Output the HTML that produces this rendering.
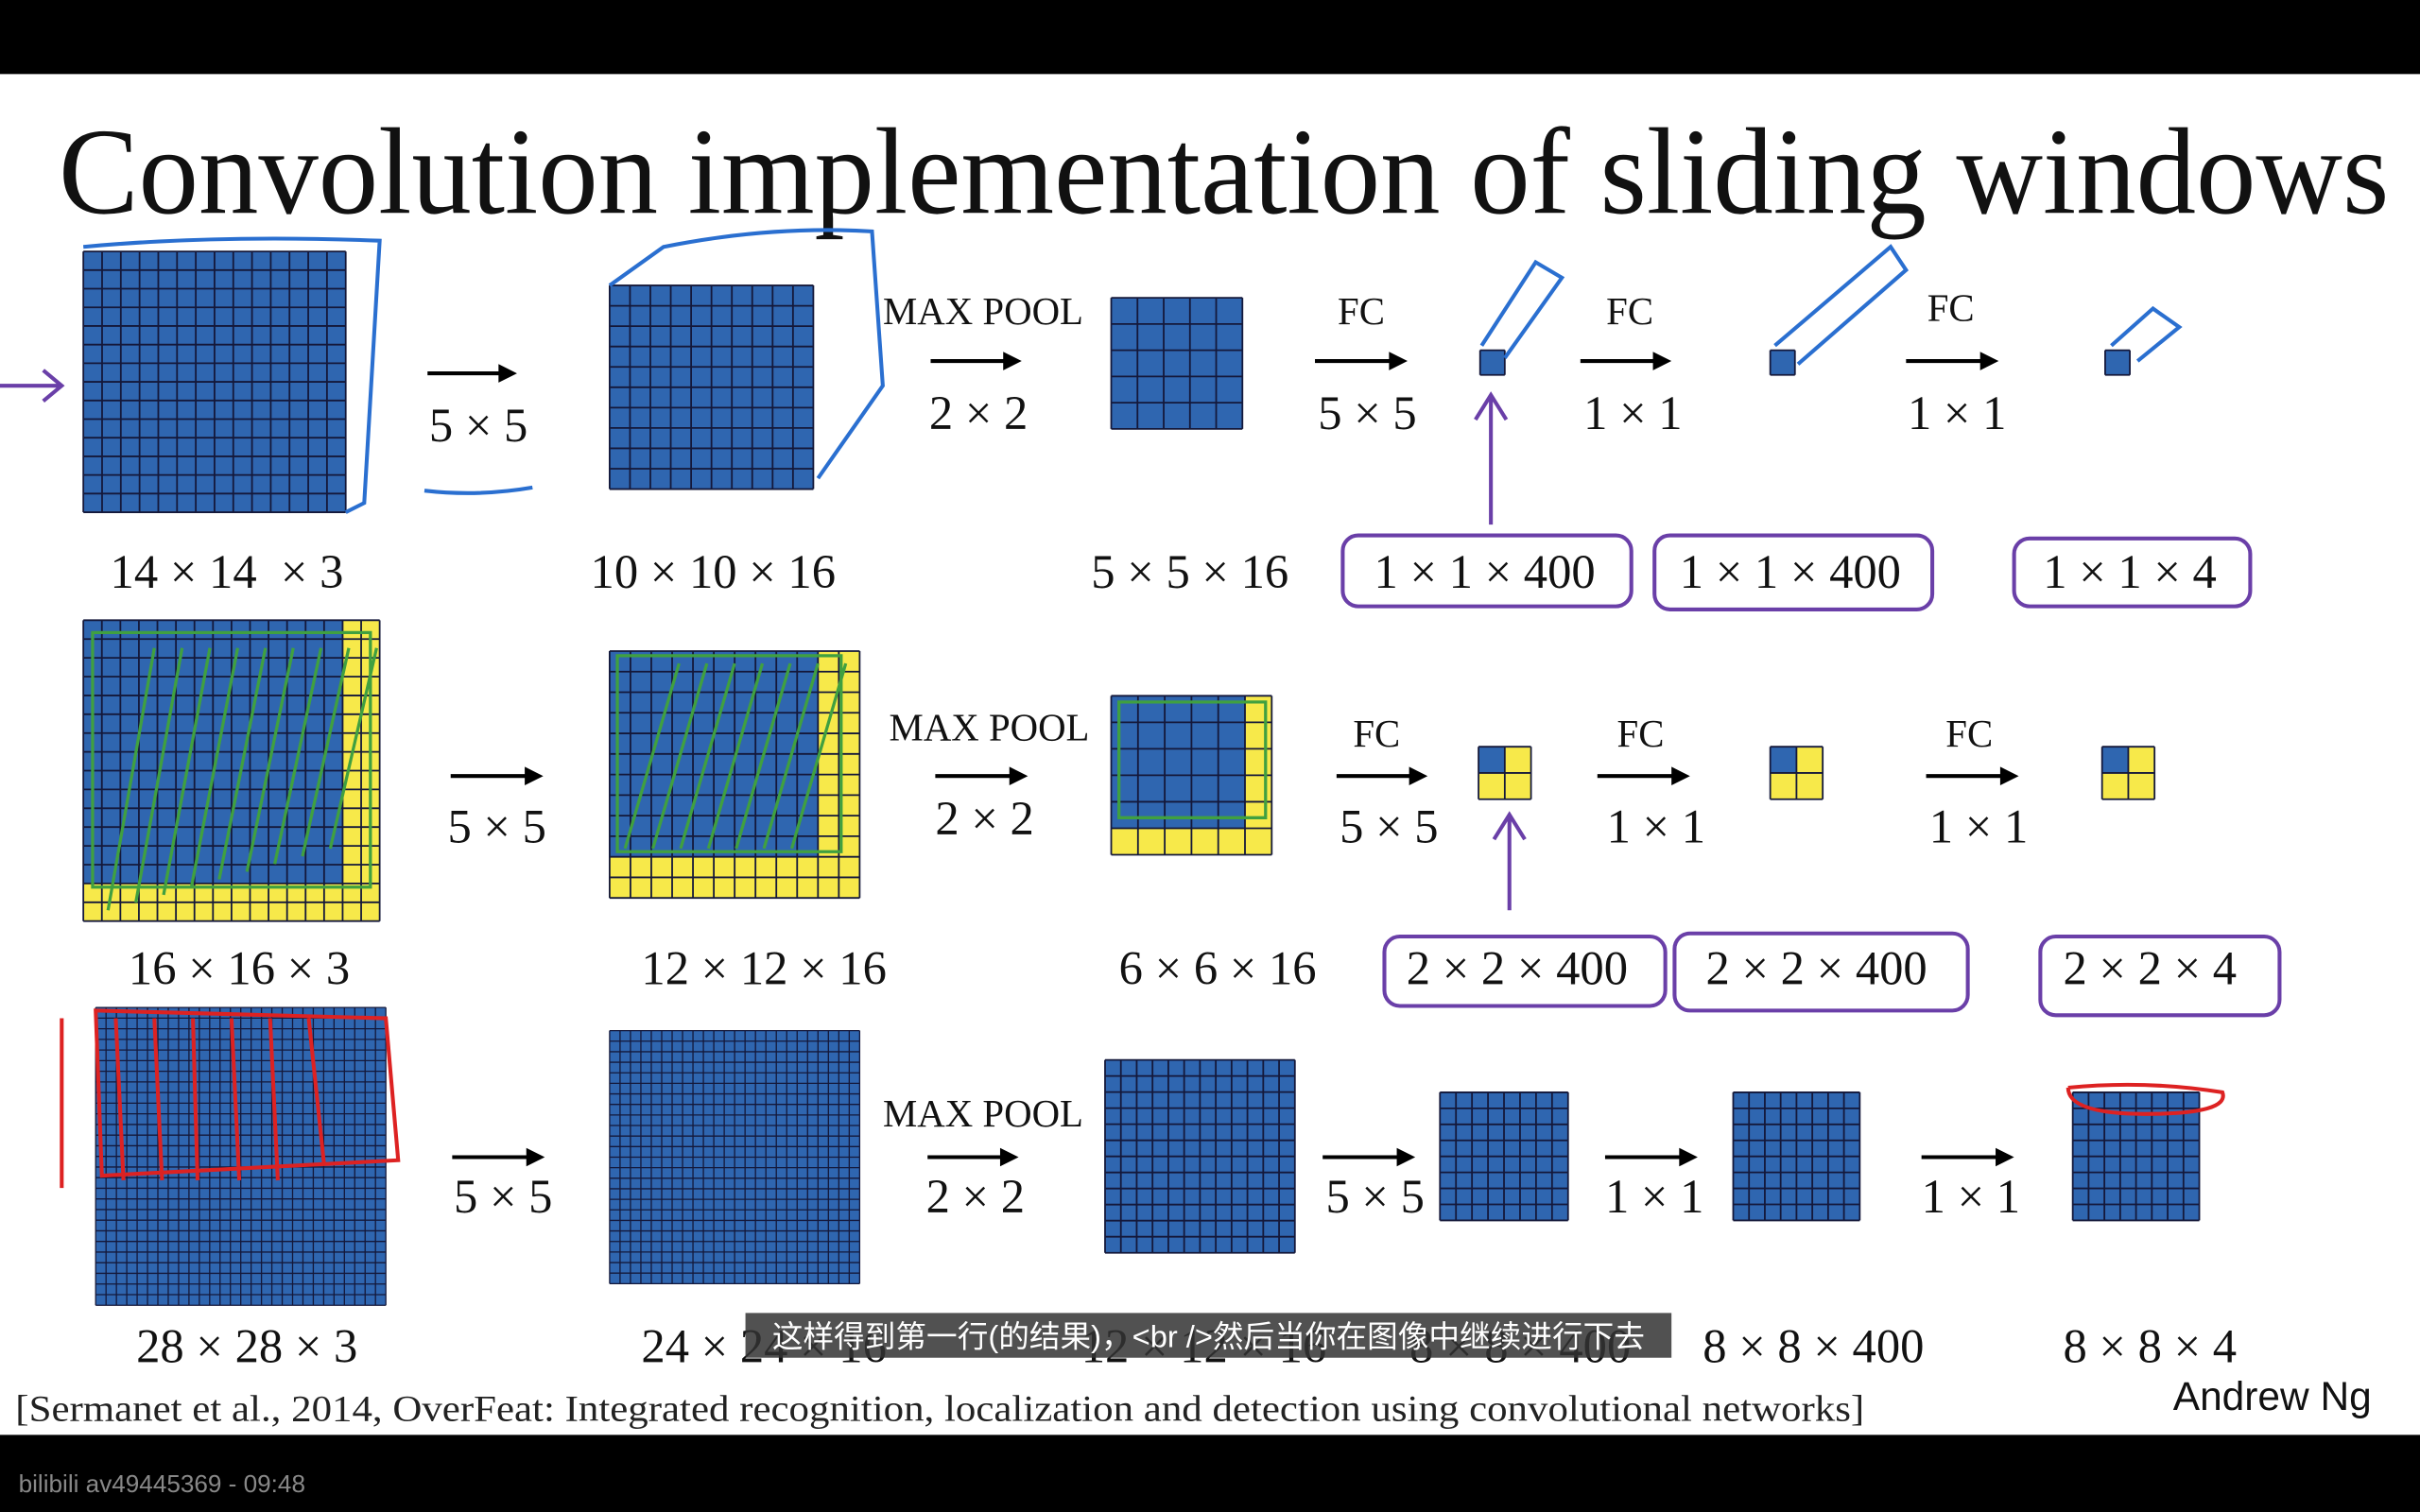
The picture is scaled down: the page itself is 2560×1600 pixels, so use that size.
<!DOCTYPE html>
<html><head><meta charset="utf-8"><style>
html,body{margin:0;padding:0;background:#000;}
svg{display:block;}
</style></head><body>
<svg id="s" xmlns="http://www.w3.org/2000/svg" width="2560" height="1600" viewBox="0 0 1568 980">
<rect x="0" y="0" width="1568" height="980" fill="#000"/>
<rect x="0" y="48" width="1568" height="882" fill="#fff"/>
<text x="38" y="138" font-family="Liberation Serif, serif" font-size="80" fill="#111" textLength="1510" lengthAdjust="spacingAndGlyphs">Convolution implementation of sliding windows</text>
<g id="g"></g>
<g font-family="Liberation Serif, serif" font-size="31" fill="#111" text-anchor="middle" id="t">
<text x="637" y="210" font-size="25">MAX POOL</text>
<text x="882" y="210" font-size="25">FC</text>
<text x="1056" y="210" font-size="25">FC</text>
<text x="1264" y="208" font-size="25">FC</text>
<text x="310" y="286">5 × 5</text>
<text x="634" y="278">2 × 2</text>
<text x="886" y="278">5 × 5</text>
<text x="1058" y="278">1 × 1</text>
<text x="1268" y="278">1 × 1</text>
<text x="147" y="381">14 × 14 &#160;× 3</text>
<text x="462" y="381">10 × 10 × 16</text>
<text x="771" y="381">5 × 5 × 16</text>
<text x="962" y="381">1 × 1 × 400</text>
<text x="1160" y="381">1 × 1 × 400</text>
<text x="1380" y="381">1 × 1 × 4</text>
<text x="641" y="480" font-size="25">MAX POOL</text>
<text x="892" y="484" font-size="25">FC</text>
<text x="1063" y="484" font-size="25">FC</text>
<text x="1276" y="484" font-size="25">FC</text>
<text x="322" y="546">5 × 5</text>
<text x="638" y="541">2 × 2</text>
<text x="900" y="546">5 × 5</text>
<text x="1073" y="546">1 × 1</text>
<text x="1282" y="546">1 × 1</text>
<text x="155" y="638">16 × 16 × 3</text>
<text x="495" y="638">12 × 12 × 16</text>
<text x="789" y="638">6 × 6 × 16</text>
<text x="983" y="638">2 × 2 × 400</text>
<text x="1177" y="638">2 × 2 × 400</text>
<text x="1393" y="638">2 × 2 × 4</text>
<text x="637" y="730" font-size="25">MAX POOL</text>
<text x="326" y="786">5 × 5</text>
<text x="632" y="786">2 × 2</text>
<text x="891" y="786">5 × 5</text>
<text x="1072" y="786">1 × 1</text>
<text x="1277" y="786">1 × 1</text>
<text x="160" y="883">28 × 28 × 3</text>
<text x="495" y="883">24 × 24 × 16</text>
<text x="780" y="883">12 × 12 × 16</text>
<text x="985" y="883">8 × 8 × 400</text>
<text x="1175" y="883">8 × 8 × 400</text>
<text x="1393" y="883">8 × 8 × 4</text>
</g>
<text x="10" y="921" font-family="Liberation Serif, serif" font-size="24" fill="#222" textLength="1198" lengthAdjust="spacingAndGlyphs">[Sermanet et al., 2014, OverFeat: Integrated recognition, localization and detection using convolutional networks]</text>
<text x="1408" y="914" font-family="Liberation Sans, sans-serif" font-size="26" fill="#111">Andrew Ng</text>
<rect x="483" y="851" width="600" height="29" fill="#333" opacity="0.85"/>
<text x="783" y="873" text-anchor="middle" font-family="Liberation Sans, 'Noto Sans CJK SC', sans-serif" font-size="20" fill="#fff">这样得到第一行(的结果)，&lt;br /&gt;然后当你在图像中继续进行下去</text>
<text x="12" y="967" font-family="Liberation Sans, sans-serif" font-size="16" fill="#888">bilibili av49445369 - 09:48</text>
<g fill="none" stroke="#6a3fa8" stroke-width="2.5">
<rect x="870" y="347" width="187" height="46" rx="10"/>
<rect x="1072" y="347" width="180" height="48" rx="10"/>
<rect x="1305" y="349" width="153" height="44" rx="10"/>
<rect x="897" y="607" width="182" height="45" rx="10"/>
<rect x="1085" y="605" width="190" height="50" rx="10"/>
<rect x="1322" y="607" width="155" height="51" rx="10"/>
<path d="M966 340 L966 258 M956 272 L966 256 L976 272"/>
<path d="M978 590 L978 530 M968 544 L978 528 L988 544"/>
<path d="M0 250 L38 250 M28 240 L40 250 L28 260"/>
</g>
<g fill="none" stroke="#2a6fd0" stroke-width="2.5">
<path d="M54 160 Q140 152 246 156 L236 326 L224 332"/>
<path d="M395 185 L430 160 Q500 146 565 150 L572 250 L530 310"/>
<path d="M960 224 L995 170 L1012 180 L975 232"/>
<path d="M1150 224 L1225 160 L1235 175 L1165 236"/>
<path d="M1368 224 L1395 200 L1412 212 L1385 234"/>
<path d="M275 318 Q310 322 345 316"/>
</g>
<g fill="none" stroke="#d22" stroke-width="2.5" id="red">
<path d="M62 655 L250 660 L258 752 L66 762 Z"/>
<path d="M75 660 L80 765 M100 660 L105 765 M125 660 L128 765 M150 660 L155 765 M175 660 L180 765 M200 660 L210 755"/>
<path d="M1340 705 Q1390 700 1440 708 Q1445 722 1390 722 Q1340 722 1340 705"/>
<path d="M40 660 L40 770"/>
</g>
<g fill="none" stroke="#40a040" stroke-width="2" id="grn"></g>
</svg>
<script>
const NS="http://www.w3.org/2000/svg",G=document.getElementById('g');
const B="#2f66b0",Y="#f7e94a",L="#14183a";
function el(n,a){const e=document.createElementNS(NS,n);for(const k in a)e.setAttribute(k,a[k]);G.appendChild(e);return e;}
function grid(x0,y0,x1,y1,n,yel){
 const cw=(x1-x0)/n,ch=(y1-y0)/n;
 el('rect',{x:x0,y:y0,width:x1-x0,height:y1-y0,fill:B});
 if(yel){
  el('rect',{x:x1-cw*yel,y:y0,width:cw*yel,height:y1-y0,fill:Y});
  el('rect',{x:x0,y:y1-ch*yel,width:x1-x0,height:ch*yel,fill:Y});
 }
 let d='';
 for(let i=0;i<=n;i++){d+=`M${x0+i*cw} ${y0}V${y1}M${x0} ${y0+i*ch}H${x1}`;}
 el('path',{d:d,stroke:L,'stroke-width':n>20?0.8:1.1,fill:'none'});
}
function arrow(x0,x1,y){el('path',{d:`M${x0} ${y}H${x1-8}`,stroke:'#000','stroke-width':2.5});el('path',{d:`M${x1-12} ${y-6}L${x1} ${y}L${x1-12} ${y+6}Z`,fill:'#000'});}
grid(54,163,224,332,14);grid(395,185,527,317,10);grid(720,193,805,278,5);
grid(959,227,975,243,1);grid(1147,227,1163,243,1);grid(1364,227,1380,243,1);
arrow(277,335,242);arrow(603,662,234);arrow(852,912,234);arrow(1024,1083,234);arrow(1235,1295,234);
grid(54,402,246,597,16,2);grid(395,422,557,582,12,2);grid(720,451,824,554,6,1);
grid(958,484,992,518,2,1);grid(1147,484,1181,518,2,1);grid(1362,484,1396,518,2,1);
arrow(292,352,503);arrow(606,666,503);arrow(866,925,503);arrow(1035,1095,503);arrow(1248,1308,503);
grid(62,653,250,846,28);grid(395,668,557,832,24);grid(716,687,839,812,12);
grid(933,708,1016,791,8);grid(1123,708,1205,791,8);grid(1343,708,1425,791,8);
arrow(293,353,750);arrow(601,660,750);arrow(857,917,750);arrow(1040,1100,750);arrow(1245,1305,750);
const g2=document.getElementById('grn');let d='';
for(let i=0;i<9;i++){d+=`M${70+i*18} ${590-i*5}L${100+i*18} ${420}`;}
for(let i=0;i<7;i++){d+=`M${405+i*18} ${550}L${440+i*18} ${430}`;}
d+='M60 410H240V575H60Z M400 425H545V552H400Z M725 455H820V530H725Z';
const p=document.createElementNS(NS,'path');p.setAttribute('d',d);g2.appendChild(p);
</script>
</body></html>
